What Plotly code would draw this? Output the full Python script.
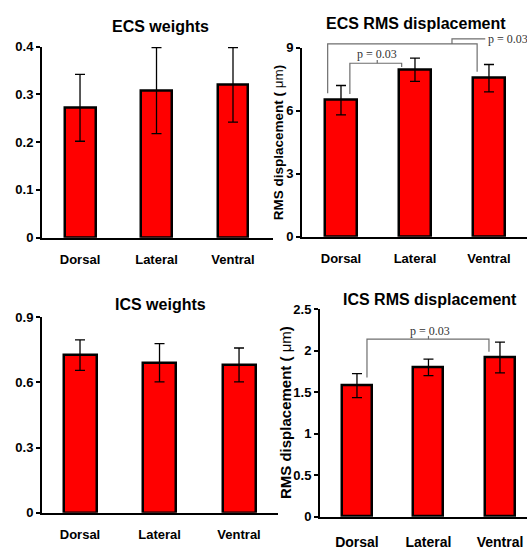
import plotly.graph_objects as go

# ---------------- data ----------------
categories = ["Dorsal", "Lateral", "Ventral"]

ecs_weights = [0.272, 0.308, 0.320]
ecs_weights_err = [0.070, 0.090, 0.078]

ecs_rms = [6.50, 7.95, 7.55]
ecs_rms_err = [0.70, 0.55, 0.65]

ics_weights = [0.725, 0.690, 0.680]
ics_weights_err = [0.070, 0.088, 0.078]

ics_rms = [1.58, 1.80, 1.92]
ics_rms_err = [0.145, 0.100, 0.185]

titles = ["ECS weights", "ECS RMS displacement", "ICS weights", "ICS RMS displacement"]
y_title = "<b>RMS displacement ( </b>μm<b>)</b>"
p_label = "p = 0.03"

# ---------------- layout helpers ----------------
W, H = 527, 550
# panel geometry in pixels: (left, right, top, bottom), x range, y range, bar width
panels = {
    1: dict(px=(42, 273, 41, 238), xr=[-0.497, 2.523], yr=[0, 0.4], dtick=0.1, bw=0.405),
    2: dict(px=(302, 527, 42, 237), xr=[-0.527, 2.514], yr=[0, 9], dtick=3, bw=0.42),
    3: dict(px=(42, 278, 320, 522), xr=[-0.478, 2.49], yr=[0, 0.9], dtick=0.3, bw=0.415),
    4: dict(px=(320, 527, 312, 526), xr=[-0.517, 2.378], yr=[0, 2.5], dtick=0.5, bw=0.42),
}


def to_paper(k, x, y):
    p = panels[k]
    l, r, t, b = p["px"]
    x0, x1 = p["xr"]
    y0, y1 = p["yr"]
    px = l + (x - x0) / (x1 - x0) * (r - l)
    py = b - (y - y0) / (y1 - y0) * (b - t)
    return px / W, 1 - py / H


FONT = "Liberation Sans"
fig = go.Figure()

series = {1: (ecs_weights, ecs_weights_err), 2: (ecs_rms, ecs_rms_err),
          3: (ics_weights, ics_weights_err), 4: (ics_rms, ics_rms_err)}

for k, (vals, errs) in series.items():
    sfx = "" if k == 1 else str(k)
    fig.add_trace(go.Bar(
        x=categories, y=vals,
        width=panels[k]["bw"],
        marker=dict(color="#FF0000", line=dict(color="black", width=2.5)),
        error_y=dict(type="data", array=errs, visible=True, color="black",
                     thickness=1.3, width=5),
        xaxis="x" + sfx, yaxis="y" + sfx, showlegend=False,
        hoverinfo="skip",
    ))
    l, r, t, b = panels[k]["px"]
    fig.update_layout({
        "xaxis" + sfx: dict(
            domain=[l / W, r / W], range=panels[k]["xr"], anchor="y" + sfx,
            showline=True, linecolor="black", linewidth=2, showgrid=False,
            zeroline=False, ticks="", ticklabelstandoff=9 if k != 4 else 11,
            tickfont=dict(family=FONT, size=13 if k != 4 else 14, color="black", weight="bold"),
            fixedrange=True,
        ),
        "yaxis" + sfx: dict(
            domain=[1 - b / H, 1 - t / H], range=panels[k]["yr"], anchor="x" + sfx,
            dtick=panels[k]["dtick"], tick0=0,
            showline=True, linecolor="black", linewidth=2, showgrid=False,
            zeroline=False, ticks="outside", ticklen=4, tickwidth=2, tickcolor="black",
            tickfont=dict(family=FONT, size=13, color="black", weight="bold"),
            fixedrange=True,
        ),
    })

# panel titles
title_pos = {1: (160, 20), 2: (416, 17), 3: (160, 307), 4: (430, 302)}
annotations = []
for i, k in enumerate([1, 2, 3, 4]):
    cx, cy = title_pos[k]
    annotations.append(dict(
        text=titles[i], x=cx / W, y=1 - cy / H, xref="paper", yref="paper",
        xanchor="center", yanchor="middle", showarrow=False,
        font=dict(family=FONT, size=16, color="black", weight="bold"),
    ))

# y-axis titles
for k, cx, fs in [(2, 278, 13.5), (4, 285, 15)]:
    l, r, t, b = panels[k]["px"]
    annotations.append(dict(
        text=y_title, x=cx / W, y=1 - (t + b) / 2 / H, xref="paper", yref="paper",
        xanchor="center", yanchor="middle", textangle=-90, showarrow=False,
        font=dict(family=FONT, size=fs, color="black"),
    ))

# significance brackets
GRAY = "#6e6e6e"
shapes = []


def bracket(k, pts):
    pp = [to_paper(k, x, y) for x, y in pts]
    path = "M " + " L ".join(f"{x:.5f},{y:.5f}" for x, y in pp)
    shapes.append(dict(type="path", path=path, xref="paper", yref="paper",
                       line=dict(color=GRAY, width=1.2)))


def ptext(k, x, y, anchor="center"):
    px, py = to_paper(k, x, y)
    annotations.append(dict(
        text=p_label, x=px, y=py, xref="paper", yref="paper",
        xanchor=anchor, yanchor="middle", showarrow=False,
        font=dict(family="Liberation Serif", size=12, color="#333333"),
    ))


# ECS RMS: Dorsal vs Lateral
bracket(2, [(0.12, 6.8), (0.12, 8.26), (0.82, 8.26), (0.82, 8.08)])
bracket(2, [(0.49, 8.26), (0.49, 8.42)])
ptext(2, 0.49, 8.72)
# ECS RMS: Dorsal vs Ventral
bracket(2, [(-0.18, 6.83), (-0.18, 9.18), (1.84, 9.18), (1.84, 7.85)])
bracket(2, [(1.5, 9.18), (1.5, 9.42), (1.95, 9.42)])
ptext(2, 1.96, 9.40, anchor="left")
# ICS RMS: Dorsal vs Ventral
bracket(4, [(0.14, 1.68), (0.14, 2.14), (1.846, 2.14), (1.846, 1.99)])
bracket(4, [(1.0, 2.14), (1.0, 2.18)])
ptext(4, 1.02, 2.24)

fig.update_layout(
    width=W, height=H,
    margin=dict(l=0, r=0, t=0, b=0),
    paper_bgcolor="white", plot_bgcolor="white",
    annotations=annotations, shapes=shapes,
    bargap=0,
)

page_fix = (
    "document.documentElement.style.margin='0';"
    "document.documentElement.style.padding='0';"
    "document.documentElement.style.overflow='hidden';"
    "document.body.style.margin='0';"
    "document.body.style.padding='0';"
    "document.body.style.overflow='hidden';"
)

fig.write_html("out.html", config={"displayModeBar": False}, post_script=page_fix)
